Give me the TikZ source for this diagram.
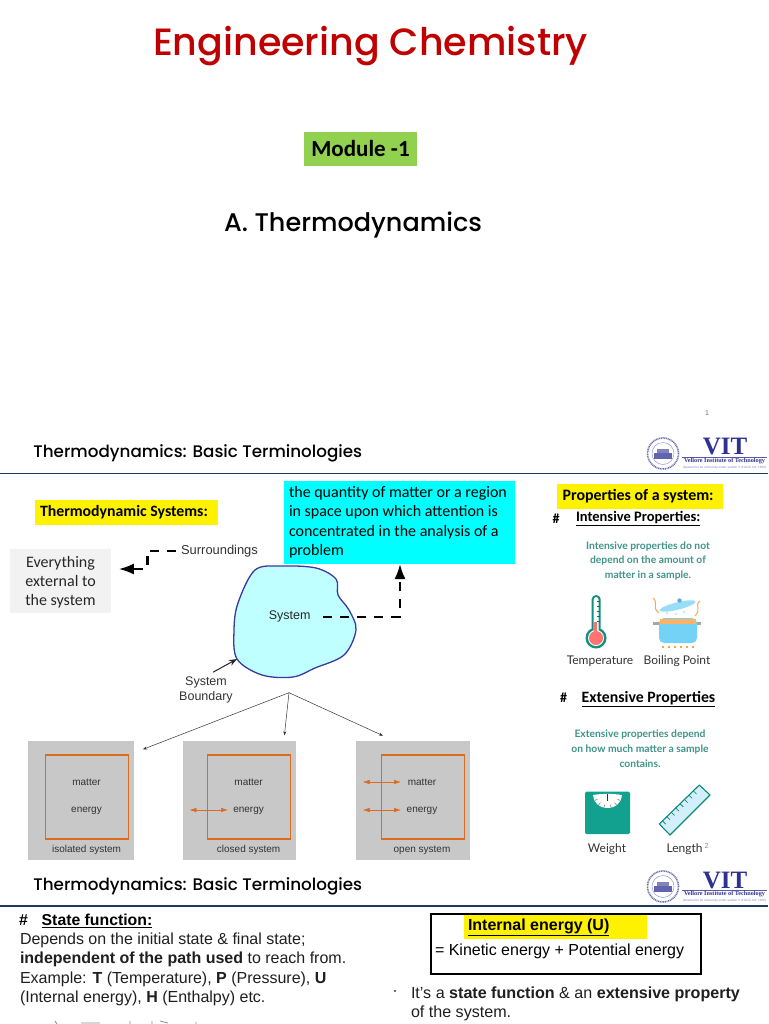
\documentclass[tikz,border=0pt]{standalone}
\usepackage{fontspec}
\usetikzlibrary{arrows.meta,calc}
\setmainfont{Liberation Sans}
\newfontfamily\headf[BoldFont={Poppins Medium}]{Poppins}
\newfontfamily\calf{Carlito}
\newfontfamily\tealf{Lato}
\newfontfamily\serf{Liberation Serif}
\definecolor{navy}{HTML}{1F3864}
\definecolor{vit}{HTML}{2E3192}
\definecolor{orng}{HTML}{DE6A1E}
\definecolor{teal1}{HTML}{3F9587}
\definecolor{teal2}{HTML}{12A08F}
\definecolor{greybx}{HTML}{C8C8C8}
\definecolor{titlered}{HTML}{C00000}
\definecolor{cyanb}{HTML}{00FFFF}
\newcommand{\px}[2]{\fontsize{#1}{#2}\selectfont}
\newcommand{\vitlogo}[2]{%
 \begin{scope}[yshift=#2]
 \node[circle,draw=vit!70,line width=1.6pt,dash pattern=on 1pt off .7pt,minimum size=31pt,inner sep=0] (#1seal) at (663,453.5) {};
 \node[circle,draw=vit!50,line width=.5pt,minimum size=22pt,inner sep=0] at (#1seal) {};
 \fill[vit!75] (654,453) rectangle (672,459);
 \fill[vit!60] (657,449) rectangle (669,453);
 \node[inner sep=0,text=vit] (#1name) at (725,447) {\serf\bfseries\px{25}{25}VIT};
 \draw[vit!80,line width=.5pt] (682,457.3) -- (767,457.3);
 \node[inner sep=0,text=vit] (#1sub) at (724.5,461.3) {\serf\bfseries\px{6.2}{7}Vellore Institute of Technology};
 \node[inner sep=0,text=vit!60] (#1tiny) at (724.5,468) {\px{3.1}{4}(Deemed to be University under section 3 of UGC Act, 1956)};
 \end{scope}}
\tikzset{
 x=1pt,y=-1pt,
 lbl/.style={inner sep=0,outer sep=0},
 ltxt/.style={lbl,anchor=west},
 head/.style={ltxt,font=\headf\bfseries\px{16.75}{20}},
 hline/.style={navy,line width=1.6pt},
 dashconn/.style={line width=2.2pt,dash pattern=on 9pt off 8pt,-{Latex[length=15pt,width=11pt]}},
 thinarr/.style={line width=.5pt,draw=black!80,-{Stealth[length=4pt,width=3pt]}},
 oarr/.style={orng,line width=.6pt,{Latex[length=7pt,width=4.5pt]}-{Latex[length=7pt,width=4.5pt]}},
 greybox/.style={fill=greybx,anchor=north west,inner sep=0},
 obox/.style={draw=orng,line width=1.4pt,anchor=north west,inner sep=0},
 small/.style={lbl,font=\px{10}{12},text=black!80},
 teal/.style={lbl,align=center,text=teal1,font=\tealf\bfseries\px{10.3}{14.9}},
 icontxt/.style={lbl,text=black!80,font=\tealf\px{12}{13}},
 ytag/.style={fill=yellow,anchor=north west,inner sep=0},
 caltxt/.style={lbl,font=\calf\px{16}{19.2}},
 arialtxt/.style={lbl,anchor=north west,align=left,text=black!88,font=\px{16}{19.25}},
}
\begin{document}
\begin{tikzpicture}
\useasboundingbox (0,0) rectangle (768,1024);
\fill[white] (0,0) rectangle (768,1024);

% --- title slide
\node[lbl,text=titlered] (title) at (370.5,46) {\headf\bfseries\px{38}{40}Engineering Chemistry};
\node[fill={rgb,255:red,146;green,208;blue,80},minimum width=113pt,minimum height=34pt,inner sep=0] (module) at (360.5,149) {\calf\bfseries\px{23}{26}Module -1};
\node[lbl] (thermo) at (353,225) {\headf\bfseries\px{25.5}{28}A. Thermodynamics};
\node[lbl,text=black!55] (pg1) at (707,413) {\px{7}{8}1};

% --- header 1
\node[head] (h1) at (33.4,453) {Thermodynamics: Basic Terminologies};
\draw[hline] (0,473.3) -- (768,473.3);
\vitlogo{a}{0pt}

% --- left part
\node[ytag,minimum width=183.6pt,minimum height=25pt] (tsys) at (34.4,500) {};
\node[ltxt] (tsyst) at (40,512.5) {\calf\bfseries\px{15.8}{18}Thermodynamic Systems:};
\node[fill=cyanb,anchor=north west,inner sep=0,minimum width=231pt,minimum height=82.6pt] (cyanbox) at (284,480.7) {};
\node[caltxt,anchor=north west,align=left] (cyant) at (289,486.5) {the quantity of matter or a region\\in space upon which attention is\\concentrated in the analysis of a\\problem};
\node[fill=black!5,anchor=north west,inner sep=0,minimum width=101pt,minimum height=63.7pt] (ext) at (10,549) {};
\node[caltxt,align=center,text=black!85] (extt) at (60.5,582.5) {Everything\\external to\\the system};
\node[lbl,font=\px{12.9}{14},text=black!80,inner xsep=5pt] (surr) at (219.5,551) {Surroundings};

\draw[draw={rgb,255:red,58;green,58;blue,160},fill={rgb,255:red,191;green,255;blue,255},line width=1.3pt]
 plot[smooth cycle,tension=.55] coordinates {(282,566)(316,568)(336,579)(338,595)(349,610)(356,630)(344,655)(315,668)(293,677)(262,675)(237,659)(234,630)(238,603)(255,570)};
\node[lbl,font=\px{12.5}{14},text=black!85,inner xsep=13pt] (sys) at (289.6,616.7) {System};
\node[lbl,align=center,font=\px{12.5}{14.2},text=black!80] (bnd) at (206,690) {System\\Boundary};

\coordinate (turn) at (147.4,569);
\coordinate (tipa) at (118.8,569);
\draw[dashconn] (surr.west) -| (turn) -- (tipa);
\coordinate (tipb) at (400,564);
\draw[dashconn] (sys.east) -| (tipb);
\coordinate (bndtip) at (237,659);
\draw[line width=1pt,-{Stealth[length=8pt,width=6pt]},black!85] ($(bnd.north)+(7,-5)$) -- (bndtip);

% --- three systems
\node[greybox,minimum width=105.6pt,minimum height=119pt] (g1) at (28,740.7) {};
\node[greybox,minimum width=113.5pt,minimum height=119pt] (g2) at (182.5,740.7) {};
\node[greybox,minimum width=114pt,minimum height=119pt] (g3) at (356,740.7) {};
\node[obox,minimum width=83pt,minimum height=84pt] (o1) at (45,754.3) {};
\node[obox,minimum width=83pt,minimum height=84pt] (o2) at (207,754.3) {};
\node[obox,minimum width=83pt,minimum height=84pt] (o3) at (381,754.3) {};
\node[small] (m1) at (86.5,782) {matter};
\node[small] (e1) at (86.5,810.5) {energy};
\node[small] (l1) at (86.5,850) {isolated system};
\node[small] (m2) at (248.6,782) {matter};
\node[small] (e2) at (248.6,810.5) {energy};
\node[small] (l2) at (248.6,850) {closed system};
\node[small] (m3) at (422,782) {matter};
\node[small] (e3) at (422,810.5) {energy};
\node[small] (l3) at (422,850) {open system};
\coordinate (a2) at (189.4,810);
\coordinate (a3) at (362.6,782);
\coordinate (a4) at (362.6,810);
\coordinate (a2e) at (228,810);
\coordinate (a3e) at (401,782);
\coordinate (a4e) at (401,810);
\draw[oarr] (a2) -- (a2e);
\draw[oarr] (a3) -- (a3e);
\draw[oarr] (a4) -- (a4e);
\coordinate (apex) at (289,692.7);
\coordinate (t1) at (143,749.3);
\coordinate (t2) at (284.4,735.3);
\coordinate (t3) at (383,735.7);
\draw[thinarr] (apex) -- (t1);
\draw[thinarr] (apex) -- (t2);
\draw[thinarr] (apex) -- (t3);

% --- properties column
\node[ytag,minimum width=166pt,minimum height=25pt] (pbox) at (556.7,484) {};
\node[ltxt] (ptxt) at (562.7,496.5) {\calf\bfseries\px{15.9}{18}Properties of a system:};
\node[lbl] (h2) at (556,518.3) {\calf\bfseries\px{14}{16}\#};
\node[ltxt] (ip) at (576,519) {\calf\bfseries\px{14.5}{18}\underline{Intensive Properties:}};
\node[teal] (itxt) at (648,561) {Intensive properties do not\\depend on the amount of\\matter in a sample.};

% thermometer
\fill[teal2!90!black] (596,638) circle (10.5);
\fill[teal2!90!black,rounded corners=4.5pt] (591.6,595) rectangle (600.7,632);
\fill[white,rounded corners=3pt] (593.6,597) rectangle (598.7,634);
\fill[white] (596,638) circle (8);
\fill[red!55!white] (596,638) circle (7);
\fill[red!55!white] (593.6,622) rectangle (597,634);
\foreach \yy in {601,606,611,616,621} \draw[teal2!70!black,line width=.6pt] (596.5,\yy) -- (599.5,\yy);
\node[icontxt] (tlab) at (600,661) {Temperature};

% pot
\draw[orange!70,line width=1pt] (653,598) .. controls (659,603) and (651,607) .. (659,613);
\draw[orange!70,line width=1pt] (700,601) .. controls (694,605) and (702,609) .. (695,616);
\fill[cyan!40,rotate around={14:(677.5,606)}] (677.5,606) ellipse (18.5 and 3.7);
\fill[cyan!60!blue!60] (679.5,600.5) circle (2.2);
\foreach \bx/\by in {667/613,676/614,684/612} \fill[cyan!25] (\bx,\by) circle (1.3);
\fill[gray!70] (652.7,621.5) rectangle (700.7,625);
\fill[cyan!55,rounded corners=5pt] (659,618) rectangle (697,643);
\fill[orange!60] (660,619) rectangle (696,624);
\foreach \xx in {662,668,674,680,686,692} \fill[orange!75] (\xx,645.5) rectangle +(1.6,2.4);
\node[icontxt] (blab) at (677,661) {Boiling Point};

\node[lbl] (h3) at (563.5,698) {\calf\bfseries\px{14}{16}\#};
\node[ltxt] (ep) at (581.7,698.7) {\calf\bfseries\px{15.8}{18}\underline{Extensive Properties}};
\node[teal] (etxt) at (640,749) {Extensive properties depend\\on how much matter a sample\\contains.};

% scale
\fill[teal2,rounded corners=1.5pt] (585,791.7) rectangle (630,834);
\fill[white] (593,795) .. controls (602,793.5) and (613,793.5) .. (622,795) arc[start angle=0,end angle=180,x radius=14.5,y radius=13] -- cycle;
\draw[red!70!black,line width=.9pt] (607.3,794) -- (607.3,801);
\foreach \aa in {25,50,75,105,130,155} \draw[gray,line width=.6pt] ($(607.5,795)+({14*cos(\aa)},{13*sin(\aa)})$) -- ($(607.5,795)+({11*cos(\aa)},{10*sin(\aa)})$);
\node[icontxt] (wlab) at (607,849) {Weight};

% ruler
\draw[teal2!85!black,fill=cyan!18,line width=1.1pt,line join=round] (699.3,785) -- (710,795) -- (670,835) -- (659.3,824) -- cycle;
\foreach \tt in {.08,.19,.30,.41,.52,.63,.74,.85} \draw[teal2!70!black,line width=.6pt] ($(659.3,824)!\tt!(699.3,785)$) -- ++(3.2,3.2);
\node[icontxt] (llab) at (684.5,849) {Length};
\node[lbl,text=black!45] (lsup) at (706.7,846) {\px{7.5}{8}2};

% --- header 2
\node[head] (h4) at (33.4,886.3) {Thermodynamics: Basic Terminologies};
\draw[hline] (0,906) -- (768,906);
\vitlogo{b}{-433pt}

% --- bottom text
\node[ltxt] (hs) at (19,920) {\bfseries\px{15.8}{18}\#};
\node[ltxt] (sf) at (41.7,921) {\bfseries\px{15.8}{18}\underline{State function:}};
\node[arialtxt] (sft) at (20,933) {Depends on the initial state \& final state;\\\textbf{independent of the path used} to reach from.\\Example: \textbf{T} (Temperature), \textbf{P} (Pressure), \textbf{U}\\(Internal energy), \textbf{H} (Enthalpy) etc.};

\node[draw=black,line width=2pt,anchor=north west,inner sep=0,minimum width=270pt,minimum height=60pt] (ibox) at (429.5,913) {};
\node[fill=yellow,anchor=north west,inner sep=0,minimum width=183pt,minimum height=24pt] (iy) at (464,915) {};
\node[ltxt] (it) at (468,927.5) {\bfseries\px{16}{18}\underline{Internal energy (U)}};
\node[ltxt] (ke) at (435,951.5) {\px{16}{18}= Kinetic energy + Potential energy};
\node[lbl] (bul) at (395,993) {\px{15}{18}·};
\node[arialtxt,font=\px{16.1}{19.25}] (stf) at (411,986.5) {It’s a \textbf{state function} \& an \textbf{extensive property}\\of the system.};

% clipped remains of the next line
\draw[black!45,line width=.8pt] (55,1021) -- (57,1024) (81,1023) -- (100,1023) (130,1021) -- (130,1024) (152,1021) -- (152,1024) (160,1021) -- (168,1023) (196,1022) -- (196,1024);
\end{tikzpicture}
\end{document}
